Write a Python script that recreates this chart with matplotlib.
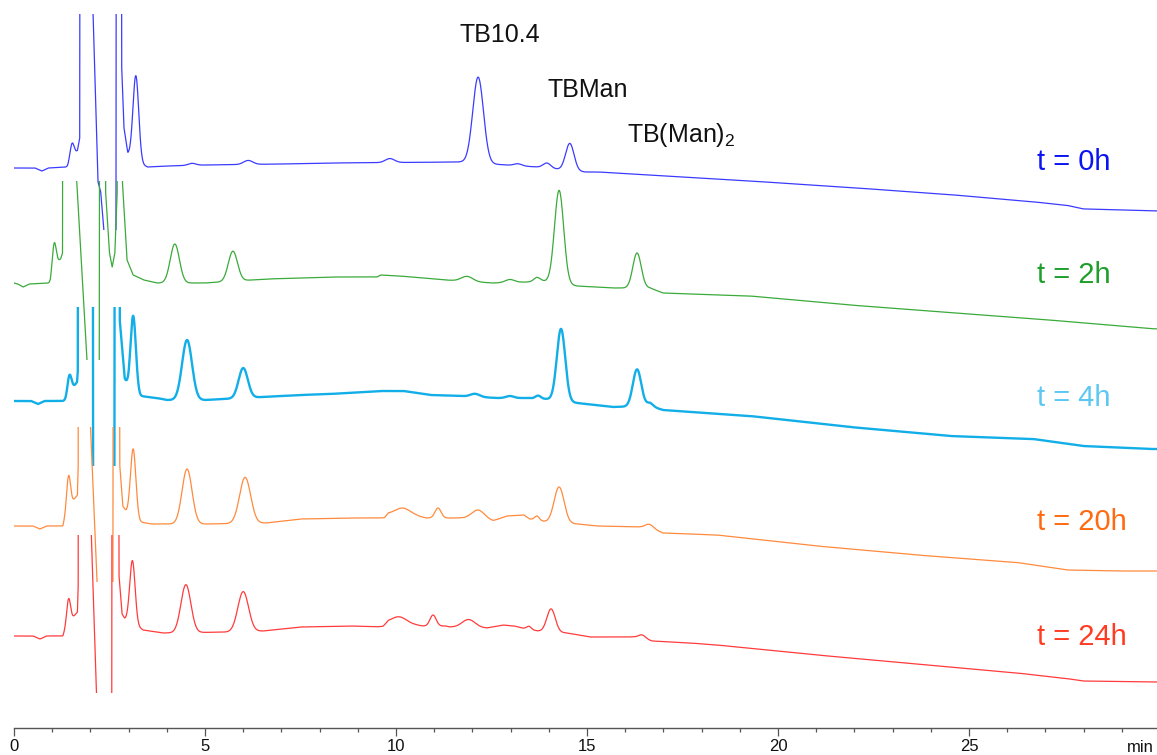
import numpy as np
import matplotlib.pyplot as plt
from matplotlib.patches import Rectangle
from matplotlib.ticker import MultipleLocator

plt.rcParams['mathtext.fontset'] = 'custom'
plt.rcParams['mathtext.rm'] = 'Liberation Sans'

# HPLC runs of the TB10.4 mannosylation, sampled at different reaction times.
# Each run: baseline vertices (time [min], signal) and peaks (time, height, sigma).
samples = ["t = 0h", "t = 2h", "t = 4h", "t = 20h", "t = 24h"]

base_0h = [(0, 0), (0.55, 0), (0.73, -3), (0.9, 0), (1.40, 1), (1.56, 10), (1.66, 17),
           (1.72, 30), (1.74, 900), (2.04, 600), (2.07, 154), (2.20, -14), (2.27, -24),
           (2.37, -70), (2.42, -500), (2.66, -500), (2.69, 900), (2.79, 900), (2.82, 100),
           (2.88, 40), (2.98, 14), (3.10, 10), (3.30, 4), (3.50, 1), (4.0, 2), (5.0, 3),
           (7.0, 4), (8.3, 5), (11.7, 6), (12.5, 4), (13.7, 1), (14.2, -1), (14.95, -4),
           (15.3, -4), (16.65, -7), (17.7, -9.5), (19.27, -13), (21.88, -19.5),
           (24.5, -26.6), (26.68, -33.8), (27.57, -37.4), (27.98, -40.9), (29.74, -42.7),
           (30, -43)]
peaks_0h = [(1.52, 17, 0.055), (3.19, 85, 0.075), (4.66, 2, 0.1), (6.13, 4, 0.12),
            (9.84, 4, 0.12), (12.15, 86, 0.14), (13.19, 2, 0.1), (13.95, 5, 0.1),
            (14.55, 27, 0.11)]

base_2h = [(0, 0), (0.1, -1), (0.24, -4), (0.4, -1), (0.95, 0), (1.12, 20), (1.22, 24),
           (1.27, 30), (1.29, 900), (1.58, 900), (1.60, 130), (1.93, -90), (1.98, -500),
           (2.22, -500), (2.26, 900), (2.36, 900), (2.40, 90), (2.50, 30), (2.57, 16),
           (2.64, 30), (2.70, 90), (2.73, 900), (2.81, 900), (2.84, 100), (2.96, 23),
           (3.12, 8), (3.4, 3), (3.74, 0), (5.0, 0), (6.62, 4), (8.35, 6), (9.5, 6),
           (9.6, 8), (10.1, 7), (11.3, 3), (12.54, 0), (13.43, 1), (13.85, 2),
           (14.74, -3), (15.68, -5), (16.65, -5), (16.99, -10), (19.27, -13),
           (21.88, -22), (24.5, -29.5), (27.1, -37), (29.74, -45.6), (30, -46)]
peaks_2h = [(1.05, 28, 0.05), (4.21, 39, 0.12), (5.73, 30, 0.12), (11.86, 5, 0.15),
            (12.98, 3, 0.12), (13.69, 4, 0.08), (14.27, 93, 0.12), (16.31, 35, 0.11)]

base_4h = [(0, 0), (0.45, 0), (0.63, -3), (0.8, 0), (1.35, 0), (1.38, 1), (1.55, 13),
           (1.65, 19), (1.67, 30), (1.69, 900), (2.05, 900), (2.08, -500), (2.62, -500),
           (2.65, 900), (2.74, 900), (2.77, 80), (2.90, 22), (3.0, 12), (3.3, 5),
           (3.74, 3), (4.0, 1), (5.0, 1), (6.5, 4), (7.5, 6), (8.27, 7), (9.6, 10),
           (10.2, 10), (10.9, 6), (11.7, 5), (12.64, 3), (13.4, 3), (13.95, 2),
           (14.74, -2), (15.68, -6), (16.65, -5), (16.99, -9), (19.27, -15),
           (21.88, -26), (24.5, -35), (26.68, -38), (27.98, -45), (29.74, -48), (30, -48)]
peaks_4h = [(1.45, 20, 0.055), (3.12, 76, 0.07), (4.53, 60, 0.13), (6.0, 30, 0.12),
            (12.07, 3, 0.12), (12.98, 2, 0.1), (13.72, 3, 0.07), (14.32, 72, 0.11),
            (16.31, 37, 0.11), (16.65, 3, 0.08)]

base_20h = [(0, 0), (0.5, 0), (0.68, -3), (0.85, 0), (1.28, 0), (1.40, 18), (1.66, 31),
            (1.68, 60), (1.70, 900), (1.96, 900), (1.98, 120), (2.19, -70), (2.25, -500),
            (2.58, -500), (2.61, 900), (2.73, 900), (2.77, 60), (2.85, 20), (2.94, 14),
            (3.3, 4), (3.6, 2), (5.0, 2), (6.6, 3), (7.5, 7), (8.8, 8), (9.7, 8),
            (9.8, 12), (10.5, 10), (10.8, 8), (11.68, 8), (12.15, 7), (12.54, 5),
            (12.9, 10), (13.35, 11), (13.5, 7), (13.69, 6), (13.95, 4), (14.27, 3),
            (14.76, 2), (15.26, 0), (16.4, -1), (16.75, -3), (16.99, -7), (18.4, -9),
            (21.02, -20), (23.64, -29), (26.26, -36.5), (27.57, -44), (28.87, -45),
            (30, -45)]
peaks_20h = [(1.43, 31, 0.05), (3.12, 68, 0.07), (4.53, 55, 0.13), (6.05, 46, 0.145),
             (10.18, 7, 0.2), (11.1, 10, 0.08), (12.15, 9, 0.17), (13.69, 4, 0.06),
             (14.27, 36, 0.13), (16.62, 4, 0.1)]

base_24h = [(0, 0), (0.5, 0), (0.68, -3), (0.85, 0), (1.28, 0), (1.40, 12), (1.66, 24),
            (1.68, 50), (1.70, 900), (1.98, 900), (2.00, 130), (2.17, -70), (2.22, -500),
            (2.55, -500), (2.58, 900), (2.71, 900), (2.75, 60), (2.83, 22), (2.90, 17),
            (3.38, 6), (3.9, 3), (5.65, 4), (6.52, 5), (7.5, 9), (8.8, 10), (9.66, 9),
            (9.8, 13), (10.5, 11), (10.7, 10), (11.3, 10), (11.4, 9), (12.38, 8),
            (12.8, 11), (13.1, 10), (13.3, 8), (13.72, 5), (14.48, 3), (15.08, -1),
            (16.2, -1), (16.7, -5), (17.7, -7), (18.4, -9), (21.02, -19), (23.64, -28),
            (26.26, -37), (27.57, -42.6), (27.98, -45), (29.74, -46), (30, -46)]
peaks_24h = [(1.43, 24, 0.05), (3.1, 63, 0.07), (4.5, 48, 0.13), (6.0, 40, 0.14),
             (10.08, 7, 0.2), (10.97, 11, 0.08), (11.9, 8, 0.17), (13.48, 3, 0.06),
             (14.06, 23, 0.11), (16.44, 4, 0.1)]

baselines = [base_0h, base_2h, base_4h, base_20h, base_24h]
peak_tables = [peaks_0h, peaks_2h, peaks_4h, peaks_20h, peaks_24h]

# stacking offsets and the visible signal window of each run
offsets = [560, 445, 327, 202, 92]
windows = [(-62, 154), (-77, 102), (-65, 94), (-56, 99), (-57, 101)]

line_colors = ["#3b3bff", "#3aaa3a", "#12aee8", "#ff8a3d", "#ff3b3b"]
line_widths = [0.9, 0.9, 1.7, 0.9, 0.9]
text_colors = ["#0a14f0", "#1e9e2a", "#5cc8f2", "#ff6a10", "#ff3c22"]
label_y = [566, 453, 330, 206, 91]

peak_names = ["TB10.4", "TBMan", r"$\mathregular{TB(Man)_2}$"]
name_pos = [(12.72, 686, "center"), (15.01, 631, "center"), (16.05, 586, "left")]


def build_trace(baseline, peaks):
    bt = np.array([p[0] for p in baseline])
    by = np.array([p[1] for p in baseline])
    t = np.union1d(np.linspace(0, 30, 6001), bt)
    y = np.interp(t, bt, by)
    for tc, h, s in peaks:
        y = y + h * np.exp(-0.5 * ((t - tc) / s) ** 2)
    return t, y


fig = plt.figure(figsize=(11.57, 7.55), dpi=100)
ax = fig.add_axes([14 / 1157, 27 / 755, 1146 / 1157, 728 / 755])

for i in range(len(samples)):
    t, y = build_trace(baselines[i], peak_tables[i])
    lo, hi = windows[i]
    line, = ax.plot(t, y + offsets[i], color=line_colors[i], lw=line_widths[i])
    clip = Rectangle((0, offsets[i] + lo), 30, hi - lo, transform=ax.transData)
    line.set_clip_path(clip)
    ax.text(26.78, label_y[i], samples[i], color=text_colors[i], fontsize=21,
            family="Liberation Sans", ha="left", va="center")

for name, (x, y, ha) in zip(peak_names, name_pos):
    ax.text(x, y, name, fontsize=18, family="Liberation Sans", ha=ha, va="baseline",
            color="#111111")

ax.set_xlim(0, 30)
ax.set_ylim(0, 728)
for side in ["left", "right", "top"]:
    ax.spines[side].set_visible(False)
ax.spines["bottom"].set_color("#555555")
ax.spines["bottom"].set_linewidth(1.0)
ax.set_yticks([])
ax.xaxis.set_major_locator(MultipleLocator(5))
ax.xaxis.set_minor_locator(MultipleLocator(1))
ax.set_xticks([0, 5, 10, 15, 20, 25])
ax.tick_params(axis="x", which="major", length=6, width=0.9, color="#555555", pad=2,
               labelsize=12)
ax.tick_params(axis="x", which="minor", length=3, width=0.9, color="#555555")
for lab in ax.get_xticklabels():
    lab.set_family(["Liberation Sans Narrow", "Liberation Sans"])
    lab.set_color("#111111")
ax.text(29.85, -0.017, "min", transform=ax.get_xaxis_transform(), ha="right", va="top",
        fontsize=12, family=["Liberation Sans Narrow", "Liberation Sans"], color="#111111")

fig.savefig("out.png", dpi=100)
